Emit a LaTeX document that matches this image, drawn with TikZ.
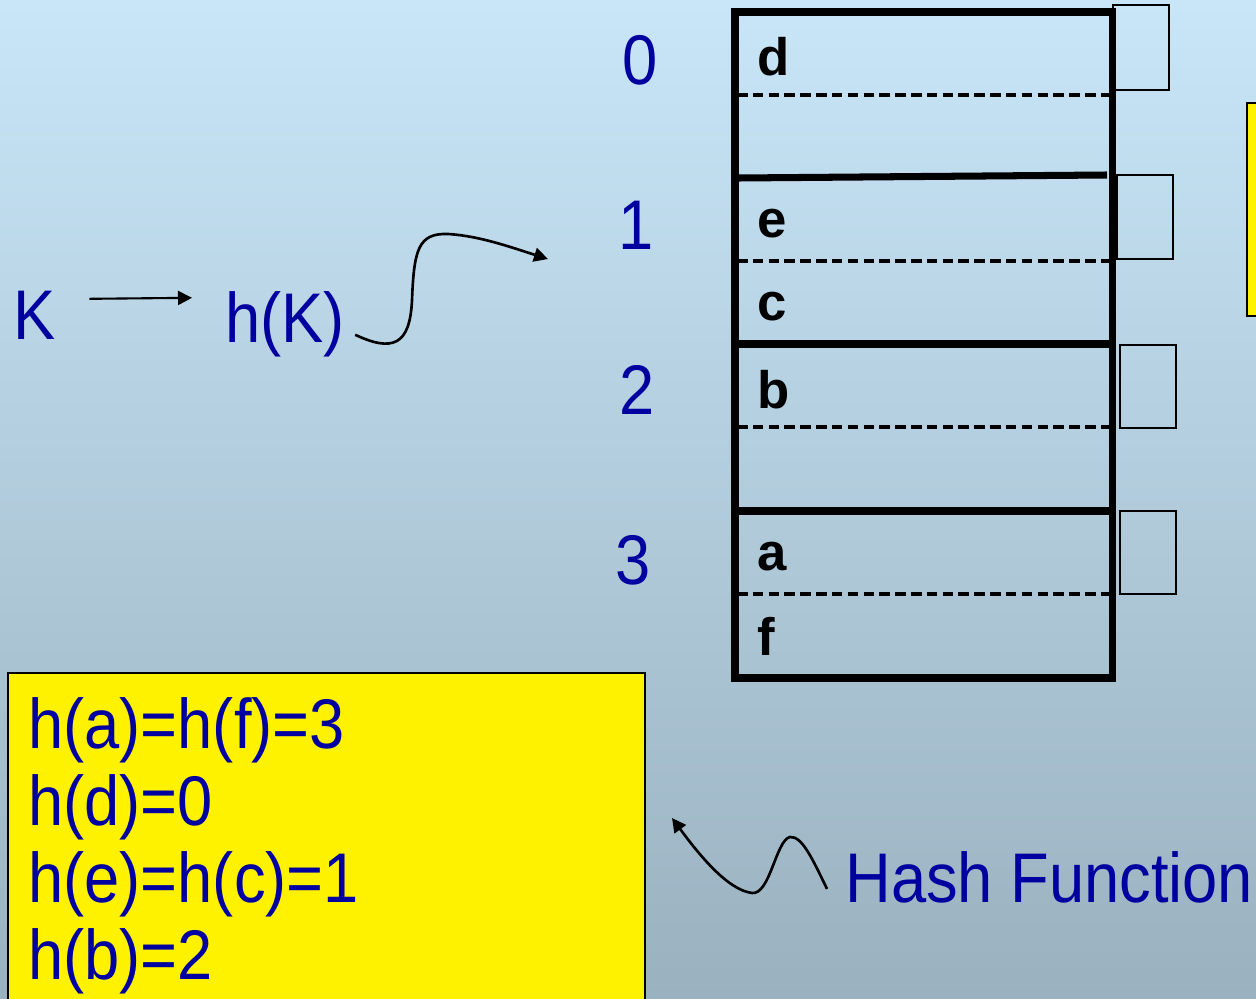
\documentclass[tikz,border=0pt]{standalone}
\usepackage{fontspec}
\setmainfont{Liberation Sans}
\newfontfamily\slidefont[FakeStretch=0.9]{Liberation Sans}
\usetikzlibrary{arrows.meta}

\definecolor{slideblue}{RGB}{0,0,160}
\definecolor{bgtop}{RGB}{200,230,248}
\definecolor{bgbottom}{RGB}{154,177,191}

\tikzset{
  bluetxt/.style={text=slideblue, font=\slidefont\fontsize{40}{44}\selectfont, inner sep=0pt},
  keytxt/.style={font=\bfseries\fontsize{30}{32}\selectfont, inner sep=0pt, anchor=west},
  slotline/.style={line width=4pt},
  dashline/.style={line width=2.4pt, dash pattern=on 6pt off 3pt},
  ptrbox/.style={draw=black, line width=0.9pt},
  wavy/.style={line width=1.5pt, -{Triangle[length=2.8mm,width=2.8mm]}}
}

\begin{document}
\begin{tikzpicture}[x=0.2mm, y=-0.2mm]
        \shade[top color=bgtop, bottom color=bgbottom] (0,0) rectangle (1256,999);
        \useasboundingbox (0,0) rectangle (1256,999);
        % the key and its hash value
        \node[bluetxt, anchor=base] (K) at (35,340) {K};
        \node[bluetxt, anchor=base west] (hK) at (225,343) {h(K)};
        \draw[wavy, line width=1.2pt] ([shift={(33,-17)}]K.east) -- ([shift={(-33,-27)}]hK.west);
        \coordinate (slotin) at (548,259);
        \draw[wavy] ([shift={(10,10)}]hK.east) .. controls (392,352) and (410,346) .. (412,300)
          .. controls (414,250) and (418,233) .. (448,234)
          .. controls (480,236) and (510,247) .. (slotin);
        % bucket table
        \draw[slotline] (735,12) rectangle (1112,678);
        \draw[slotline] (739,178) -- (1107,175);
        \foreach \y in {344,511}
          \draw[slotline] (735,\y) -- (1112,\y);
        \foreach \y in {95,261,427,594}
          \draw[dashline] (737,\y) -- (1110,\y);
        \foreach \i/\x/\y in {0/640/60, 1/636/225, 2/637/390, 3/633/560}
          \node[bluetxt] (idx\i) at (\x,\y) {\i};
        \foreach \k/\y in {d/57, e/224, c/307, b/390, a/557, f/636}
          \node[keytxt] (key\k) at (757,\y) {\k};
        % overflow pointers
        \draw[ptrbox] (1113,5) rectangle (1169,90);
        \draw[ptrbox] (1117,175) rectangle (1173,259);
        \draw[ptrbox] (1120,345) rectangle (1176,428);
        \draw[ptrbox] (1120,511) rectangle (1176,594);
        \draw[fill=yellow, line width=1.6pt] (1247,103) rectangle (1264,316);
        % hash values
        \draw[fill=yellow, line width=0.9pt] (8,673) rectangle (645,1006);
        \foreach \txt [count=\i] in {h(a)=h(f)=3, h(d)=0, h(e)=h(c)=1, h(b)=2}
          \node[bluetxt, anchor=base west] (hv\i) at (28,{748+(\i-1)*77.3}) {\txt};
        \node[bluetxt, anchor=base west] (hash) at (845,902) {Hash Function};
        \coordinate (listout) at (672,818);
        \draw[wavy] ([shift={(-18,12)}]hash.west) .. controls (812,858) and (802,836) .. (790,837)
          .. controls (776,840) and (770,895) .. (752,893)
          .. controls (728,890) and (700,856) .. (listout);
\end{tikzpicture}
\end{document}
